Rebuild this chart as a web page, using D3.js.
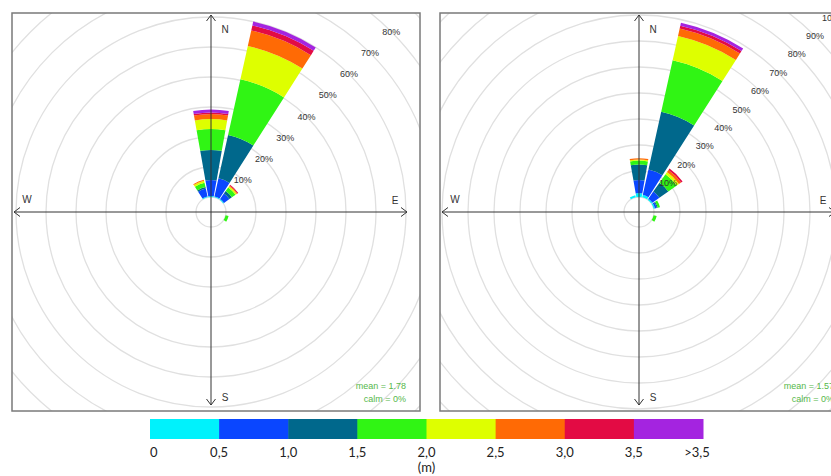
<!DOCTYPE html>
<html>
<head>
<meta charset="utf-8">
<script src="https://cdn.jsdelivr.net/npm/d3@7"></script>
<style>
  body { margin: 0; background: #fff; }
  svg { display: block; }
</style>
</head>
<body>
<div id="chart"></div>
<script>
// wave height classes (m) and legend ticks
const classes = ["0-0,5", "0,5-1,0", "1,0-1,5", "1,5-2,0", "2,0-2,5", "2,5-3,0", "3,0-3,5", ">3,5"];
const classColors = ["#00f2fc", "#0a46ff", "#00688c", "#30f514", "#deff00", "#ff6a05", "#e30b44", "#a424e0"];
const legendTicks = ["0", "0,5", "1,0", "1,5", "2,0", "2,5", "3,0", "3,5", ">3,5"];

const directions = ["N", "NNE", "NE", "ENE", "E", "ESE", "SE", "SSE", "S", "SSW", "SW", "WSW", "W", "WNW", "NW", "NNW"];

// frequency (%) of each height class per direction
const leftRose = [
    { dir: "N",   freq: [0.3, 5.4, 10.0, 7.0, 3.3, 1.7, 0.5, 1.0] },
    { dir: "NNE", freq: [0.3, 6.2, 14.8, 19.0, 11.4, 5.3, 1.7, 1.3] },
    { dir: "NE",  freq: [0.3, 2.2, 1.0, 1.5, 0.5, 0.3, 0.3, 0] },
    { dir: "ESE", freq: [0, 0, 0, 1.0, 0, 0, 0, 0] },
    { dir: "NNW", freq: [0.3, 2.7, 0.5, 1.5, 0.7, 0.3, 0, 0] }
];
const rightRose = [
    { dir: "N",   freq: [1.5, 5.0, 6.0, 1.5, 0.4, 0.5, 0, 0] },
    { dir: "NNE", freq: [1.0, 10.0, 22.7, 20.3, 9.6, 2.9, 1.1, 1.2] },
    { dir: "NE",  freq: [0.5, 3.3, 4.2, 4.0, 1.0, 1.0, 0.7, 0] },
    { dir: "ENE", freq: [0.5, 0.7, 0.4, 0.9, 0, 0, 0, 0] },
    { dir: "ESE", freq: [0, 0, 0, 1.2, 0, 0, 0, 0] },
    { dir: "NNW", freq: [0.8, 0, 0, 0, 0, 0, 0, 0] }
];

const leftRings = [10, 20, 30, 40, 50, 60, 70, 80];
const rightRings = [10, 20, 30, 40, 50, 60, 70, 80, 90, 100];
const leftStats = ["mean = 1.78", "calm = 0%"];
const rightStats = ["mean = 1.57", "calm = 0%"];

const width = 831, height = 476;

const svg = d3.select("#chart").append("svg")
    .attr("width", width)
    .attr("height", height);

function drawRose(opts) {
    const { x0, y0, w, h, rose, rings, maxPct, maxR, stats, id } = opts;
    const cx = x0 + 199, cy = y0 + 199;

    const r = d3.scaleLinear().domain([0, maxPct]).range([15, maxR]);
    const angle = d3.scaleBand().domain(directions).range([0, 2 * Math.PI]);
    const half = (10 / 180) * Math.PI;

    svg.append("clipPath").attr("id", id)
        .append("rect").attr("x", x0).attr("y", y0).attr("width", w).attr("height", h);

    const g = svg.append("g").attr("clip-path", "url(#" + id + ")");
    const c = g.append("g").attr("transform", "translate(" + cx + "," + cy + ")");

    // rings (extend past the frame, clipped)
    const allRings = [0].concat(rings).concat([rings[rings.length - 1] + 10, rings[rings.length - 1] + 20]);
    c.selectAll("circle.ring")
        .data(allRings)
        .enter().append("circle")
        .attr("class", "ring")
        .attr("r", d => r(d))
        .attr("fill", "none")
        .attr("stroke", "#e0e0e0")
        .attr("stroke-width", 1.3);

    // stacked sectors
    const arc = d3.arc();
    rose.forEach(function (d) {
        const a = angle(d.dir);
        const cum = d3.cumsum(d.freq);
        const segs = d.freq.map((f, i) => ({ i: i, lo: i ? cum[i - 1] : 0, hi: cum[i] }))
            .filter(s => s.hi > s.lo);
        c.selectAll(null)
            .data(segs)
            .enter().append("path")
            .attr("fill", s => classColors[s.i])
            .attr("d", s => arc({
                innerRadius: r(s.lo),
                outerRadius: r(s.hi),
                startAngle: a - half,
                endAngle: a + half
            }));
    });

    // ring labels along 45 deg
    const s45 = Math.SQRT1_2;
    c.selectAll("text.rl")
        .data(rings)
        .enter().append("text")
        .attr("class", "rl")
        .attr("x", d => r(d) * s45)
        .attr("y", d => -r(d) * s45)
        .attr("dy", "0.35em")
        .attr("text-anchor", "middle")
        .style("font-family", "Liberation Sans, Arial, sans-serif")
        .style("font-size", "9px")
        .style("fill", "#333")
        .text(d => d + "%");

    // compass axes with arrowheads
    const axis = c.append("g").attr("stroke", "#333").attr("stroke-width", 1).attr("fill", "none");
    axis.append("line").attr("x1", 0).attr("y1", -197).attr("x2", 0).attr("y2", 193);
    axis.append("line").attr("x1", -197).attr("y1", 0).attr("x2", 196).attr("y2", 0);
    axis.append("path").attr("d", "M-4.5,-191L0,-197L4.5,-191");
    axis.append("path").attr("d", "M-4.5,187L0,193L4.5,187");
    axis.append("path").attr("d", "M-191,-4.5L-197,0L-191,4.5");
    axis.append("path").attr("d", "M190,-4.5L196,0L190,4.5");

    const compass = [["N", 14, -183], ["S", 14, 185], ["W", -184, -13], ["E", 184, -12]];
    c.selectAll("text.cp")
        .data(compass)
        .enter().append("text")
        .attr("class", "cp")
        .attr("x", d => d[1])
        .attr("y", d => d[2])
        .attr("dy", "0.35em")
        .attr("text-anchor", "middle")
        .style("font-family", "Liberation Sans, Arial, sans-serif")
        .style("font-size", "10px")
        .style("fill", "#333")
        .text(d => d[0]);

    // stats text
    c.selectAll("text.st")
        .data(stats)
        .enter().append("text")
        .attr("class", "st")
        .attr("x", 195)
        .attr("y", (d, i) => 177 + i * 13)
        .attr("text-anchor", "end")
        .style("font-family", "Liberation Sans, Arial, sans-serif")
        .style("font-size", "9px")
        .style("fill", "#56b84a")
        .text(d => d);

    // frame
    svg.append("rect")
        .attr("x", x0).attr("y", y0).attr("width", w).attr("height", h)
        .attr("fill", "none")
        .attr("stroke", "#7a7a7a")
        .attr("stroke-width", 1.5);
}

drawRose({ x0: 12, y0: 13, w: 408, h: 398, rose: leftRose, rings: leftRings, maxPct: 80, maxR: 255, stats: leftStats, id: "clipL" });
drawRose({ x0: 440, y0: 13, w: 408, h: 398, rose: rightRose, rings: rightRings, maxPct: 100, maxR: 275, stats: rightStats, id: "clipR" });

// legend colour bar
const lx = d3.scaleLinear().domain([0, classes.length]).range([150, 703]);
const legend = svg.append("g");
legend.selectAll("rect")
    .data(classes)
    .enter().append("rect")
    .attr("x", (d, i) => lx(i))
    .attr("y", 419)
    .attr("width", (d, i) => lx(i + 1) - lx(i) + 0.5)
    .attr("height", 20)
    .attr("fill", (d, i) => classColors[i]);

legend.selectAll("text.tk")
    .data(legendTicks)
    .enter().append("text")
    .attr("class", "tk")
    .attr("x", (d, i) => i === 0 ? lx(0) : (i === legendTicks.length - 1 ? lx(i) - 6 : lx(i)))
    .attr("y", 457)
    .attr("text-anchor", (d, i) => i === 0 ? "start" : "middle")
    .style("font-family", "Lato, 'Open Sans', sans-serif")
    .style("font-size", "13px")
    .style("fill", "#222")
    .text(d => d);

legend.append("text")
    .attr("x", lx(4))
    .attr("y", 472)
    .attr("text-anchor", "middle")
    .style("font-family", "Lato, 'Open Sans', sans-serif")
    .style("font-size", "13px")
    .style("fill", "#222")
    .text("(m)");
</script>
</body>
</html>
